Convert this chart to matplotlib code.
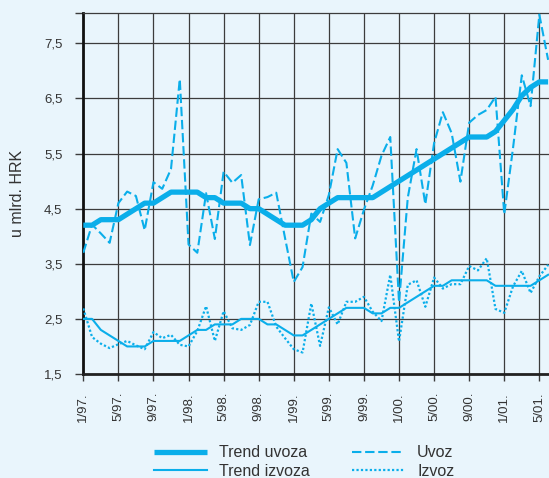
import numpy as np
import matplotlib
matplotlib.use("Agg")
import matplotlib.pyplot as plt

plt.rcParams['font.family'] = ['Liberation Sans', 'DejaVu Sans']

# monthly data, 1/97. .. 6/01., u mlrd. HRK
trend_uvoza = [4.2, 4.2, 4.3, 4.3, 4.3, 4.4, 4.5, 4.6, 4.6, 4.7, 4.8, 4.8, 4.8, 4.8,
               4.7, 4.7, 4.6, 4.6, 4.6, 4.5, 4.5, 4.4, 4.3, 4.2, 4.2, 4.2, 4.3, 4.5,
               4.6, 4.7, 4.7, 4.7, 4.7, 4.7, 4.8, 4.9, 5.0, 5.1, 5.2, 5.3, 5.4, 5.5,
               5.6, 5.7, 5.8, 5.8, 5.8, 5.9, 6.1, 6.3, 6.55, 6.7, 6.8, 6.8]
uvoz = [3.7, 4.21, 4.05, 3.88, 4.6, 4.81, 4.73, 4.11, 4.98, 4.86, 5.22, 6.85, 3.85, 3.7,
        4.78, 3.95, 5.17, 4.97, 5.11, 3.84, 4.67, 4.71, 4.79, 3.97, 3.17, 3.44, 4.41, 4.26,
        4.75, 5.58, 5.33, 3.96, 4.48, 4.92, 5.46, 5.8, 2.8, 4.7, 5.58, 4.58, 5.69, 6.25,
        5.87, 4.99, 6.06, 6.2, 6.29, 6.53, 4.4, 5.6, 6.92, 6.36, 8.02, 7.2]
trend_izvoza = [2.5, 2.5, 2.3, 2.2, 2.1, 2.0, 2.0, 2.0, 2.1, 2.1, 2.1, 2.1, 2.2, 2.3,
                2.3, 2.4, 2.4, 2.4, 2.5, 2.5, 2.5, 2.4, 2.4, 2.3, 2.2, 2.2, 2.3, 2.4,
                2.5, 2.6, 2.7, 2.7, 2.7, 2.6, 2.6, 2.7, 2.7, 2.8, 2.9, 3.0, 3.1, 3.1,
                3.2, 3.2, 3.2, 3.2, 3.2, 3.1, 3.1, 3.1, 3.1, 3.1, 3.2, 3.3]
izvoz = [2.69, 2.17, 2.05, 1.97, 2.04, 2.1, 2.02, 1.95, 2.26, 2.15, 2.21, 2.03, 2.0, 2.28,
         2.73, 2.1, 2.64, 2.33, 2.3, 2.39, 2.81, 2.81, 2.36, 2.15, 1.95, 1.89, 2.78, 2.01,
         2.71, 2.4, 2.81, 2.81, 2.9, 2.63, 2.46, 3.3, 2.09, 3.12, 3.2, 2.72, 3.25, 3.05,
         3.13, 3.13, 3.46, 3.38, 3.6, 2.68, 2.61, 3.09, 3.37, 2.97, 3.27, 3.48]
xlabels = ["1/97.", "5/97.", "9/97.", "1/98.", "5/98.", "9/98.", "1/99.", "5/99.",
           "9/99.", "1/00.", "5/00.", "9/00.", "1/01.", "5/01."]
ylabels = ["1,5", "2,5", "3,5", "4,5", "5,5", "6,5", "7,5"]

bg = '#e9f5fc'
blue = '#0aaeea'
txt = '#333333'
gridc = '#3c3c3c'

fig = plt.figure(figsize=(5.49, 4.78), dpi=100, facecolor=bg)
ax = fig.add_axes([83.3 / 549, 104 / 478, (549 - 83.3) / 549, 361 / 478])
ax.set_facecolor(bg)

x = np.arange(len(uvoz))
ax.plot(x, uvoz, color=blue, lw=1.5, dashes=(4.5, 1.8), label='Uvoz', zorder=3)
ax.plot(x, izvoz, color=blue, lw=1.6, dashes=(1, 1), label='Izvoz', zorder=3)
l1, = ax.plot(x, trend_uvoza, color=blue, lw=3.8, label='Trend uvoza',
              solid_capstyle='butt', zorder=4)
l2, = ax.plot(x, trend_izvoza, color=blue, lw=1.5, label='Trend izvoza', zorder=4)

ax.set_xlim(0, (549 - 83.3) / 8.77)
ax.set_ylim(1.5, 8.05)

ax.set_xticks(x[::4][:len(xlabels)])
ax.set_xticklabels(xlabels, rotation=90, fontsize=9.5, color=txt)
ax.set_yticks([float(s.replace(',', '.')) for s in ylabels])
ax.set_yticklabels(ylabels, fontsize=9.5, color=txt)
ax.set_yticks([8.05], minor=True)
ax.tick_params(axis='x', length=5, width=1, color=gridc, pad=8)
ax.tick_params(axis='y', which='both', length=6, width=1, color=gridc, pad=9)

ax.grid(True, color=gridc, lw=0.9)
ax.set_axisbelow(True)
ax.spines['right'].set_visible(False)
ax.spines['top'].set_color(gridc)
ax.spines['top'].set_linewidth(0.9)
ax.spines['left'].set_linewidth(2)
ax.spines['left'].set_color('#111111')
ax.spines['bottom'].set_linewidth(2)
ax.spines['bottom'].set_color('#222222')

ax.set_ylabel('u mlrd. HRK', fontsize=11.5, color=txt, labelpad=14)

handles, labels = ax.get_legend_handles_labels()
order = [labels.index(n) for n in ['Trend uvoza', 'Trend izvoza', 'Uvoz', 'Izvoz']]
fig.legend([handles[k] for k in order], [labels[k] for k in order],
           loc='center', bbox_to_anchor=(304 / 549, 16 / 478), ncol=2,
           frameon=False, fontsize=11.5, handlelength=3.3, handletextpad=0.8,
           columnspacing=2.6, labelspacing=0.2, labelcolor=txt)

fig.savefig('out.png', dpi=100, facecolor=bg)
